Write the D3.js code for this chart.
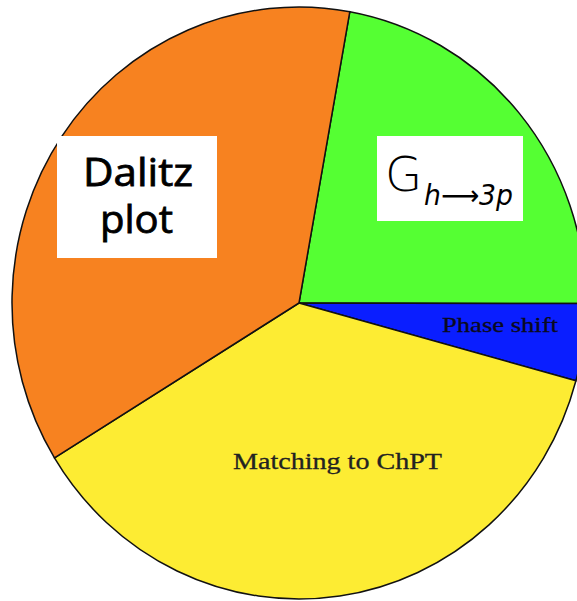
<!DOCTYPE html>
<html><head><meta charset="utf-8">
<script src="https://cdn.jsdelivr.net/npm/d3@7"></script>
<style>html,body{margin:0;padding:0;background:#fff;overflow:hidden}</style>
</head><body>
<svg id="c" width="577" height="601"></svg>
<script>
const categories = ["Gamma", "Phase shift", "Matching to ChPT", "Dalitz plot"];
const values = [22.2, 4.2, 37.0, 36.6];
const colors = ["#55FF33", "#0A1EFF", "#FDEC33", "#F78220"];
const startDeg = 10.2;

const svg = d3.select("#c");
const cx = 299, cy = 303, rx = 287, ry = 296;
const pie = d3.pie().sort(null)
  .startAngle(startDeg * Math.PI / 180)
  .endAngle(startDeg * Math.PI / 180 + 2 * Math.PI);
const arc = d3.arc().innerRadius(0).outerRadius(rx);
const g = svg.append("g").attr("transform", `translate(${cx},${cy}) scale(1,${ry / rx})`);
g.selectAll("path").data(pie(values)).join("path")
  .attr("d", arc)
  .attr("fill", (d, i) => colors[i])
  .attr("stroke", "#111")
  .attr("stroke-width", 1.5)
  .attr("vector-effect", "non-scaling-stroke");

// In-slice labels (serif)
svg.append("text").attr("x", 442).attr("y", 332)
  .attr("font-family", "Liberation Serif, serif").attr("font-size", 22)
  .attr("fill", "#0a0a20").attr("stroke", "#0a0a20").attr("stroke-width", 0.3)
  .attr("textLength", 116).attr("lengthAdjust", "spacingAndGlyphs")
  .text(categories[1]);
svg.append("text").attr("x", 233).attr("y", 469)
  .attr("font-family", "Liberation Serif, serif").attr("font-size", 23)
  .attr("fill", "#222").attr("stroke", "#222").attr("stroke-width", 0.3)
  .attr("textLength", 209).attr("lengthAdjust", "spacingAndGlyphs")
  .text(categories[2]);

// Dalitz box
svg.append("rect").attr("x", 57).attr("y", 136).attr("width", 160).attr("height", 122).attr("fill", "#fff");
svg.append("text").attr("x", 83).attr("y", 186)
  .attr("font-family", "Comic Sans MS, Open Sans, sans-serif").attr("font-size", 38)
  .attr("fill", "#000").attr("stroke", "#000").attr("stroke-width", 0.8)
  .attr("textLength", 110).attr("lengthAdjust", "spacingAndGlyphs")
  .text("Dalitz");
svg.append("text").attr("x", 100).attr("y", 233)
  .attr("font-family", "Comic Sans MS, Open Sans, sans-serif").attr("font-size", 38)
  .attr("fill", "#000").attr("stroke", "#000").attr("stroke-width", 0.8)
  .attr("textLength", 73).attr("lengthAdjust", "spacingAndGlyphs")
  .text("plot");

// Gamma box
svg.append("rect").attr("x", 377).attr("y", 136).attr("width", 146).attr("height", 85).attr("fill", "#fff");
svg.append("text").attr("x", 385).attr("y", 191)
  .attr("font-family", "DejaVu Sans, sans-serif").attr("font-size", 48).attr("font-weight", 300)
  .attr("fill", "#000").text("G");
svg.append("text").attr("x", 424).attr("y", 205)
  .attr("font-family", "DejaVu Sans, sans-serif").attr("font-size", 28).attr("font-style", "italic")
  .attr("fill", "#000").attr("textLength", 89).attr("lengthAdjust", "spacingAndGlyphs")
  .text("h\u27F63p");
</script>
</body></html>
